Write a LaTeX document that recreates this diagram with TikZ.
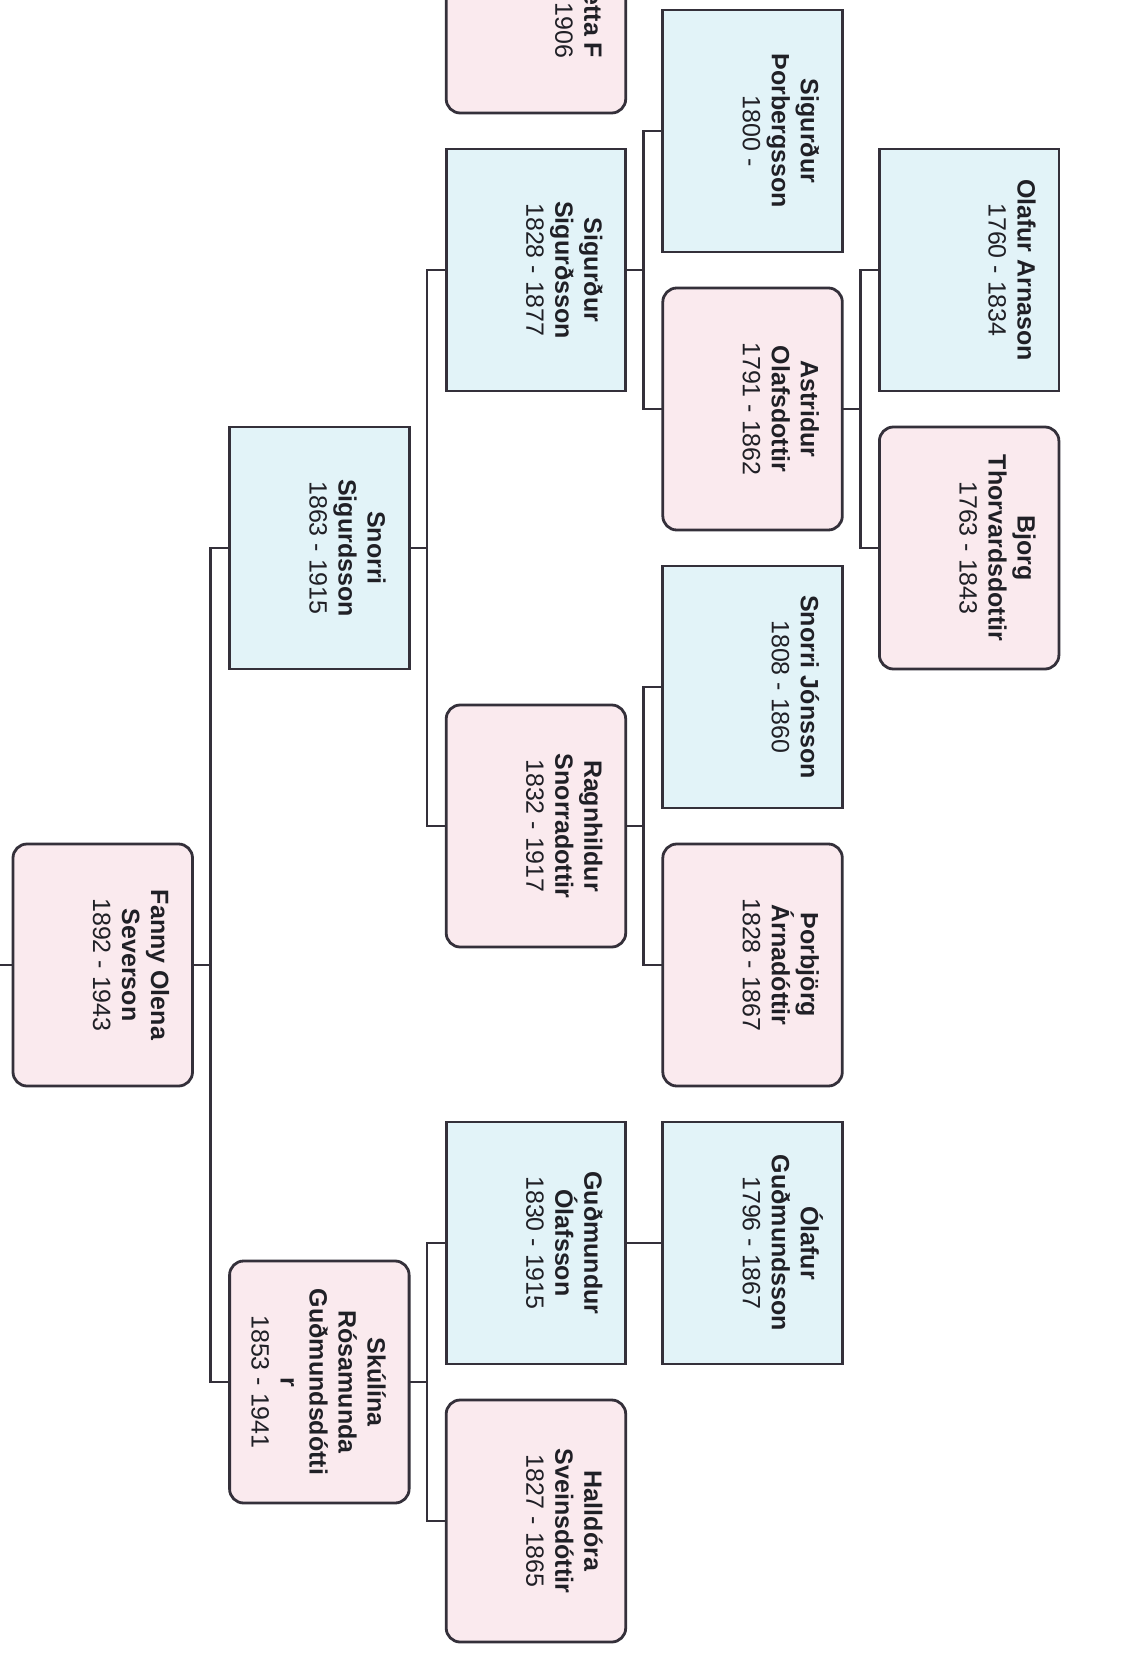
\documentclass[tikz,border=0pt]{standalone}
\usepackage{fontspec}
\setmainfont{Liberation Sans}
\usetikzlibrary{calc}
\definecolor{pinkc}{RGB}{250,234,238}
\definecolor{bluec}{RGB}{226,243,248}
\definecolor{linec}{RGB}{52,48,58}
\definecolor{textc}{RGB}{32,32,38}
\begin{document}
\begin{tikzpicture}[x=0.5pt,y=-0.5pt,
  personbox/.style={draw=linec, line width=1.4pt, minimum width=89.75pt, minimum height=121pt, inner sep=0pt, outer sep=0pt},
  malebox/.style={personbox, fill=bluec},
  femalebox/.style={personbox, fill=pinkc, rounded corners=7pt},
  txt/.style={rotate=-90, anchor=north, inner sep=0pt, align=center, text=textc, font=\fontsize{12.5pt}{14.5pt}\selectfont},
  conn/.style={draw=linec, line width=1.3pt}]
\useasboundingbox (0,0) rectangle (1139,1679);
\fill[white] (0,0) rectangle (1139,1679);

% boxes
\node[femalebox] (fanny)   at (102.75,965) {};
\node[malebox]   (snorriS) at (319.35,548) {};
\node[femalebox] (skulina) at (319.35,1382) {};
\node[femalebox] (topp)    at (535.95,-8) {};
\node[malebox]   (sigS)    at (535.95,270) {};
\node[femalebox] (ragn)    at (535.95,826) {};
\node[malebox]   (gudm)    at (535.95,1243) {};
\node[femalebox] (halld)   at (535.95,1521) {};
\node[malebox]   (sigT)    at (752.55,131) {};
\node[femalebox] (astr)    at (752.55,409) {};
\node[malebox]   (snorriJ) at (752.55,687) {};
\node[femalebox] (thorb)   at (752.55,965) {};
\node[malebox]   (olafG)   at (752.55,1243) {};
\node[malebox]   (olafA)   at (969.15,270) {};
\node[femalebox] (bjorg)   at (969.15,548) {};

% texts
\node[txt] (fanny-t) at ([xshift=-8pt]fanny.east) {\rule{0pt}{12.5pt}\textbf{Fanny Olena}\\\textbf{Severson}\\1892 - 1943};
\node[txt] (snorriS-t) at ([xshift=-8pt]snorriS.east) {\rule{0pt}{12.5pt}\textbf{Snorri}\\\textbf{Sigurdsson}\\1863 - 1915};
\node[txt] (skulina-t) at ([xshift=-8pt]skulina.east) {\rule{0pt}{12.5pt}\textbf{Skúlína}\\\textbf{Rósamunda}\\\textbf{Guðmundsdótti}\\\textbf{r}\\1853 - 1941};
\node[txt, anchor=north east, align=right] (topp-t) at (609.7,58.7) {\rule{0pt}{12.5pt}\textbf{etta F}\\1906};
\node[txt] (sigS-t) at ([xshift=-8pt]sigS.east) {\rule{0pt}{12.5pt}\textbf{Sigurður}\\\textbf{Sigurðsson}\\1828 - 1877};
\node[txt] (ragn-t) at ([xshift=-8pt]ragn.east) {\rule{0pt}{12.5pt}\textbf{Ragnhildur}\\\textbf{Snorradottir}\\1832 - 1917};
\node[txt] (gudm-t) at ([xshift=-8pt]gudm.east) {\rule{0pt}{12.5pt}\textbf{Guðmundur}\\\textbf{Ólafsson}\\1830 - 1915};
\node[txt] (halld-t) at ([xshift=-8pt]halld.east) {\rule{0pt}{12.5pt}\textbf{Halldóra}\\\textbf{Sveinsdóttir}\\1827 - 1865};
\node[txt] (sigT-t) at ([xshift=-8pt]sigT.east) {\rule{0pt}{12.5pt}\textbf{Sigurður}\\\textbf{Þorbergsson}\\1800 -};
\node[txt] (astr-t) at ([xshift=-8pt]astr.east) {\rule{0pt}{12.5pt}\textbf{Astridur}\\\textbf{Olafsdottir}\\1791 - 1862};
\node[txt] (snorriJ-t) at ([xshift=-8pt]snorriJ.east) {\rule{0pt}{12.5pt}\textbf{Snorri Jónsson}\\1808 - 1860};
\node[txt] (thorb-t) at ([xshift=-8pt]thorb.east) {\rule{0pt}{12.5pt}\textbf{Þorbjörg}\\\textbf{Árnadóttir}\\1828 - 1867};
\node[txt] (olafG-t) at ([xshift=-8pt]olafG.east) {\rule{0pt}{12.5pt}\textbf{Ólafur}\\\textbf{Guðmundsson}\\1796 - 1867};
\node[txt] (olafA-t) at ([xshift=-8pt]olafA.east) {\rule{0pt}{12.5pt}\textbf{Olafur Arnason}\\1760 - 1834};
\node[txt] (bjorg-t) at ([xshift=-8pt]bjorg.east) {\rule{0pt}{12.5pt}\textbf{Bjorg}\\\textbf{Thorvardsdottir}\\1763 - 1843};

% connectors
\coordinate (child) at (0,965);
\draw[conn] (child) -- (fanny.west);
\draw[conn] (fanny.east) -- ++(18,0) |- (snorriS.west);
\draw[conn] (fanny.east) -- ++(18,0) |- (skulina.west);
\draw[conn] (snorriS.east) -- ++(18,0) |- (sigS.west);
\draw[conn] (snorriS.east) -- ++(18,0) |- (ragn.west);
\draw[conn] (skulina.east) -- ++(18,0) |- (gudm.west);
\draw[conn] (skulina.east) -- ++(18,0) |- (halld.west);
\draw[conn] (sigS.east) -- ++(18,0) |- (sigT.west);
\draw[conn] (sigS.east) -- ++(18,0) |- (astr.west);
\draw[conn] (ragn.east) -- ++(18,0) |- (snorriJ.west);
\draw[conn] (ragn.east) -- ++(18,0) |- (thorb.west);
\draw[conn] (gudm.east) -- (olafG.west);
\draw[conn] (astr.east) -- ++(18,0) |- (olafA.west);
\draw[conn] (astr.east) -- ++(18,0) |- (bjorg.west);
\end{tikzpicture}
\end{document}
